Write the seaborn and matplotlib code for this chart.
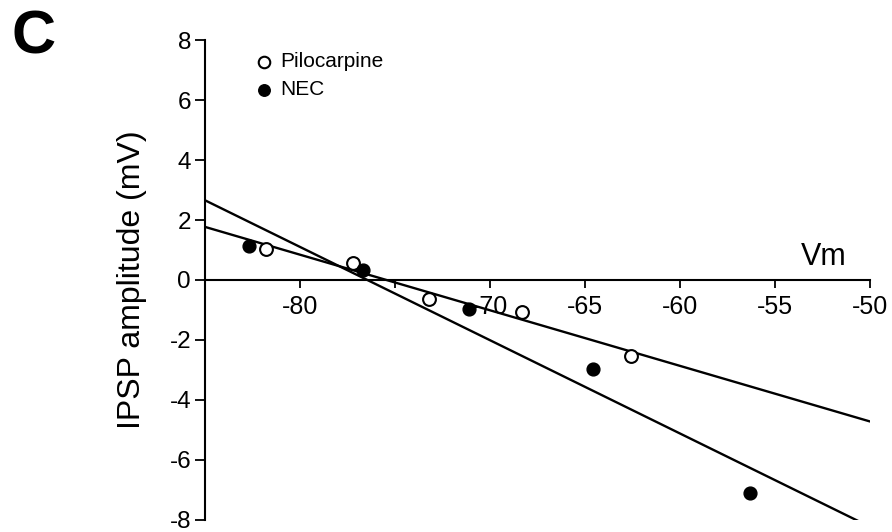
import numpy as np
import pandas as pd
import matplotlib
matplotlib.use("Agg")
import matplotlib.pyplot as plt
import seaborn as sns

# Data
pilo_vm = [-81.8, -77.2, -73.2, -68.3, -62.6]
pilo_ipsp = [1.03, 0.57, -0.63, -1.06, -2.53]
nec_vm = [-82.7, -76.7, -71.1, -64.6, -56.3]
nec_ipsp = [1.14, 0.33, -0.98, -2.98, -7.11]
x_ticks = [-80, -75, -70, -65, -60, -55, -50]
x_tick_labels = ["-80", "", "-70", "-65", "-60", "-55", "-50"]
y_ticks = [-8, -6, -4, -2, 0, 2, 4, 6, 8]

sns.set_style("ticks")
plt.rcParams["font.family"] = ["Liberation Sans", "DejaVu Sans"]
plt.rcParams["text.color"] = "black"
plt.rcParams["axes.labelcolor"] = "black"
plt.rcParams["xtick.color"] = "black"
plt.rcParams["ytick.color"] = "black"
plt.rcParams["axes.edgecolor"] = "black"

df_pilo = pd.DataFrame({"Vm": pilo_vm, "IPSP": pilo_ipsp})
df_nec = pd.DataFrame({"Vm": nec_vm, "IPSP": nec_ipsp})

fig = plt.figure(figsize=(8.92, 5.32), dpi=100)
ax = fig.add_axes([205 / 892, 12 / 532, 665 / 892, 480 / 532])
ax.set_xlim(-85, -50)
ax.set_ylim(-8, 8)

line_kws = dict(color="black", lw=1.7, zorder=2)
sns.regplot(data=df_pilo, x="Vm", y="IPSP", ax=ax, scatter=False, ci=None,
            truncate=False, line_kws=line_kws)
sns.regplot(data=df_nec, x="Vm", y="IPSP", ax=ax, scatter=False, ci=None,
            truncate=False, line_kws=line_kws)

h1 = ax.scatter(df_pilo["Vm"], df_pilo["IPSP"], s=85, facecolor="white",
                edgecolor="black", linewidth=1.5, zorder=4, label="Pilocarpine")
h2 = ax.scatter(df_nec["Vm"], df_nec["IPSP"], s=85, facecolor="black",
                edgecolor="black", linewidth=1.0, zorder=4, label="NEC")
ax.set_xlim(-85, -50)
ax.set_ylim(-8, 8)

sns.despine(ax=ax)
ax.spines["bottom"].set_position(("data", 0))
ax.spines["bottom"].set_linewidth(1.5)
ax.spines["left"].set_linewidth(1.5)
ax.spines["bottom"].set_zorder(2.6)

ax.set_xticks(x_ticks)
ax.set_xticklabels(x_tick_labels)
ax.set_yticks(y_ticks)
ax.set_yticklabels([str(v) for v in y_ticks])
ax.tick_params(axis="x", direction="out", length=6, width=1.3, pad=5,
               labelsize=18, colors="black")
ax.tick_params(axis="y", direction="out", length=7, width=1.3, pad=3,
               labelsize=17.5, colors="black")

ax.set_xlabel("")
ax.set_ylabel("IPSP amplitude (mV)", fontsize=23, labelpad=16)
fig.text(824 / 892, 1 - 265 / 532, "Vm", fontsize=22, ha="center",
         va="baseline")
fig.text(12 / 892, 1 - 54 / 532, "C", fontsize=44, fontweight="bold",
         ha="left", va="baseline")

leg = ax.legend(handles=[h1, h2], loc="upper left",
                bbox_to_anchor=(254 / 892, 1 - 52 / 532),
                bbox_transform=fig.transFigure, frameon=False, fontsize=15,
                handlelength=1.0, handletextpad=0.25, labelspacing=0.45,
                borderaxespad=0, borderpad=0, markerscale=0.9)

fig.savefig("out.png", dpi=100)
